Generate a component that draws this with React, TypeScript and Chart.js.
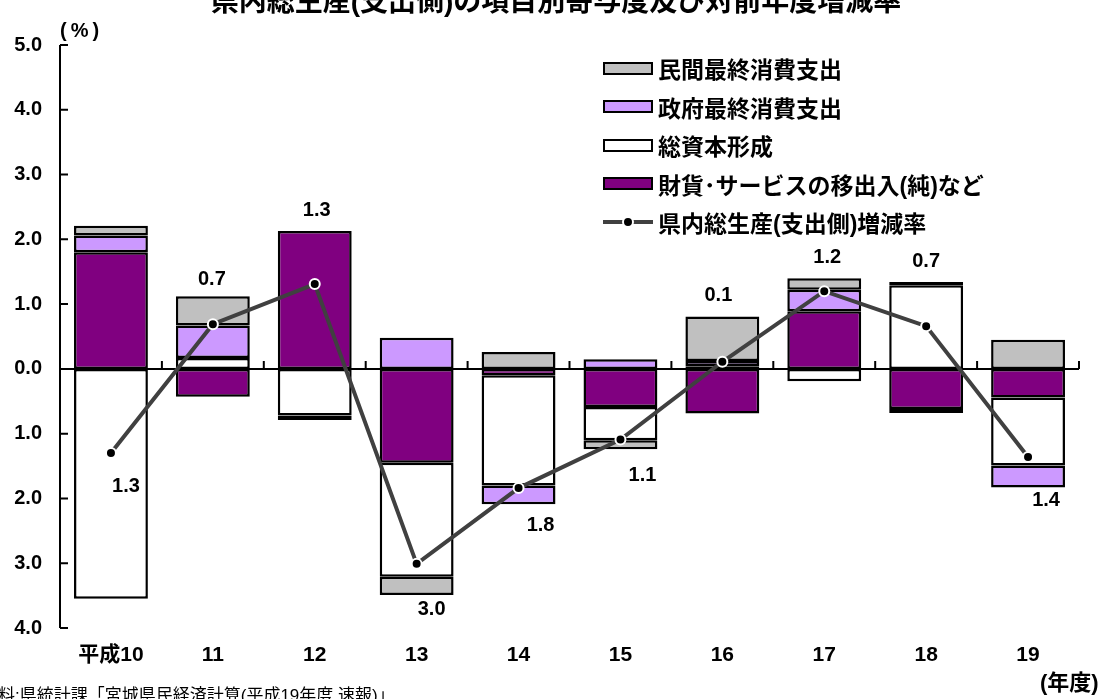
import React, { useEffect, useRef } from "react";
import { Chart, registerables } from "chart.js";

Chart.register(...registerables);

const TITLE = "県内総生産(支出側)の項目別寄与度及び対前年度増減率";
const SOURCE = "資料:県統計課「宮城県民経済計算(平成19年度 速報)」";
const CATEGORIES = ["平成10", "11", "12", "13", "14", "15", "16", "17", "18", "19"];
// contributions (percentage points)
const NET_EXPORTS = [1.8, -0.43, 2.13, -1.45, -0.1, -0.59, -0.69, 0.89, -0.62, -0.44];
const CAPITAL = [-3.55, 0.17, -0.72, -1.76, -1.7, -0.51, 0.04, -0.19, 1.29, -1.05];
const GOVERNMENT = [0.26, 0.5, null, 0.48, -0.29, 0.15, 0.08, 0.33, -0.06, -0.34];
const PRIVATE = [0.15, 0.45, -0.07, -0.28, 0.26, -0.14, 0.69, 0.18, 0.05, 0.45];
// growth rate of gross prefectural product (expenditure side)
const GROWTH = [-1.3, 0.69, 1.31, -3.01, -1.84, -1.09, 0.11, 1.2, 0.66, -1.36];
const Y_MIN = -4;
const Y_MAX = 5;

const SERIES_NAMES = {
  private: "民間最終消費支出",
  gov: "政府最終消費支出",
  cap: "総資本形成",
  net: "財貨･サービスの移出入(純)など",
  growth: "県内総生産(支出側)増減率",
};

const FONT = "'Liberation Sans', 'Noto Sans CJK JP', sans-serif";

// label placement relative to growth point / stack ends (dx, dy in px)
const LABEL_PLACE: { anchor: "point" | "top" | "bottom"; dx: number; dy: number }[] = [
  { anchor: "point", dx: 15, dy: 33 },
  { anchor: "top", dx: -1, dy: -17 },
  { anchor: "top", dx: 2, dy: -20 },
  { anchor: "bottom", dx: 15, dy: 15 },
  { anchor: "bottom", dx: 22, dy: 21 },
  { anchor: "bottom", dx: 22, dy: 26 },
  { anchor: "top", dx: -4, dy: -21 },
  { anchor: "top", dx: 3, dy: -21 },
  { anchor: "top", dx: 0, dy: -21 },
  { anchor: "bottom", dx: 18, dy: 13 },
];

const decorPlugin = {
  id: "decor",
  beforeDatasetsDraw(chart: any) {
    const { ctx, chartArea: a, scales } = chart;
    const x = scales.x;
    const y = scales.y;
    ctx.save();
    ctx.strokeStyle = "#000";
    ctx.lineWidth = 2;
    ctx.beginPath();
    ctx.moveTo(a.left, a.top);
    ctx.lineTo(a.left, a.bottom);
    y.ticks.forEach((t: any) => {
      const py = y.getPixelForValue(t.value);
      ctx.moveTo(a.left, py);
      ctx.lineTo(a.left + 8, py);
    });
    const z = y.getPixelForValue(0);
    ctx.moveTo(a.left, z);
    ctx.lineTo(a.right, z);
    const half = (x.getPixelForValue(1) - x.getPixelForValue(0)) / 2;
    for (let i = 0; i < CATEGORIES.length; i++) {
      const bx = x.getPixelForValue(i) + half;
      ctx.moveTo(bx, z);
      ctx.lineTo(bx, z - 8);
    }
    ctx.stroke();
    ctx.restore();
  },
  afterDatasetsDraw(chart: any) {
    const { ctx, scales } = chart;
    const x = scales.x;
    const y = scales.y;
    ctx.save();
    ctx.fillStyle = "#000";
    ctx.font = `bold 20px ${FONT}`;
    ctx.textAlign = "center";
    ctx.textBaseline = "middle";
    GROWTH.forEach((v, i) => {
      const series = [NET_EXPORTS, CAPITAL, GOVERNMENT, PRIVATE];
      let pos = 0;
      let neg = 0;
      series.forEach((s) => {
        const val = s[i];
        if (val == null) return;
        if (val >= 0) pos += val;
        else neg += val;
      });
      const p = LABEL_PLACE[i];
      let base = y.getPixelForValue(v);
      if (p.anchor === "top") base = y.getPixelForValue(pos);
      if (p.anchor === "bottom") base = y.getPixelForValue(neg);
      ctx.fillText(Math.abs(v).toFixed(1), x.getPixelForValue(i) + p.dx, base + p.dy);
    });
    ctx.restore();
  },
};

export default function App() {
  const ref = useRef<HTMLCanvasElement | null>(null);

  useEffect(() => {
    if (!ref.current) return;
    const barBase = {
      type: "bar" as const,
      borderColor: "#000",
      borderWidth: 2.5,
      borderSkipped: false,
      barPercentage: 1,
      categoryPercentage: 0.725,
      order: 1,
    };
    const chart = new Chart(ref.current, {
      type: "bar",
      data: {
        labels: CATEGORIES,
        datasets: [
          { ...barBase, label: SERIES_NAMES.net, data: NET_EXPORTS, backgroundColor: "#800080" },
          { ...barBase, label: SERIES_NAMES.cap, data: CAPITAL, backgroundColor: "#FFFFFF" },
          { ...barBase, label: SERIES_NAMES.gov, data: GOVERNMENT, backgroundColor: "#CC99FF" },
          { ...barBase, label: SERIES_NAMES.private, data: PRIVATE, backgroundColor: "#C0C0C0" },
          {
            type: "line" as const,
            label: SERIES_NAMES.growth,
            data: GROWTH,
            borderColor: "#404040",
            borderWidth: 4,
            pointRadius: 5,
            pointBackgroundColor: "#000",
            pointBorderColor: "#fff",
            pointBorderWidth: 2,
            tension: 0,
            order: 0,
          } as any,
        ],
      },
      options: {
        animation: false,
        responsive: false,
        maintainAspectRatio: false,
        devicePixelRatio: 1,
        layout: { padding: { left: 0, right: 33, top: 45, bottom: 0 } },
        plugins: {
          legend: { display: false },
          title: { display: false },
          tooltip: { enabled: false },
        },
        scales: {
          x: {
            stacked: true,
            grid: { display: false, drawTicks: false },
            border: { display: false },
            ticks: {
              color: "#000",
              font: { family: FONT, size: 21, weight: "bold" },
              padding: 15,
              maxRotation: 0,
              autoSkip: false,
            },
            afterFit: (s: any) => {
              s.height = 71;
            },
          },
          y: {
            stacked: true,
            min: Y_MIN,
            max: Y_MAX,
            grid: { display: false, drawTicks: false },
            border: { display: false },
            ticks: {
              stepSize: 1,
              color: "#000",
              font: { family: FONT, size: 20, weight: "bold" },
              padding: 18,
              callback: (v: any) => Math.abs(Number(v)).toFixed(1),
            },
            afterFit: (s: any) => {
              s.width = 60;
            },
          },
        },
      } as any,
      plugins: [decorPlugin],
    });
    return () => chart.destroy();
  }, []);

  const legendItems = [
    { name: SERIES_NAMES.private, color: "#C0C0C0" },
    { name: SERIES_NAMES.gov, color: "#CC99FF" },
    { name: SERIES_NAMES.cap, color: "#FFFFFF" },
    { name: SERIES_NAMES.net, color: "#800080" },
  ];

  return (
    <div
      style={{
        position: "fixed",
        left: 0,
        top: 0,
        width: 1112,
        height: 699,
        overflow: "hidden",
        background: "#fff",
        fontFamily: FONT,
        color: "#000",
      }}
    >
      <canvas ref={ref} width={1112} height={699} style={{ position: "absolute", left: 0, top: 0 }} />
      <div
        style={{
          position: "absolute",
          top: -12,
          left: 0,
          width: 1112,
          textAlign: "center",
          fontSize: 28,
          lineHeight: "28px",
          fontWeight: "bold",
          whiteSpace: "nowrap",
        }}
      >
        {TITLE}
      </div>
      <div
        style={{
          position: "absolute",
          top: 18,
          left: 60,
          fontSize: 20,
          lineHeight: "24px",
          fontWeight: "bold",
          letterSpacing: 4,
        }}
      >
        (%)
      </div>
      <div
        style={{
          position: "absolute",
          top: 670,
          left: 1040,
          fontSize: 22,
          lineHeight: "26px",
          fontWeight: "bold",
          whiteSpace: "nowrap",
        }}
      >
        (年度)
      </div>
      <div
        style={{
          position: "absolute",
          top: 686,
          left: -19,
          fontSize: 17,
          lineHeight: "20px",
          whiteSpace: "nowrap",
        }}
      >
        {SOURCE}
      </div>
      <div style={{ position: "absolute", left: 603, top: 49 }}>
        {legendItems.map((it, i) => (
          <div key={i} style={{ display: "flex", alignItems: "center", height: 38.5 }}>
            <div
              style={{
                width: 50,
                height: 13,
                boxSizing: "border-box",
                border: "2px solid #000",
                background: it.color,
                marginRight: 5,
              }}
            />
            <span style={{ fontSize: 23, fontWeight: "bold", whiteSpace: "nowrap" }}>{it.name}</span>
          </div>
        ))}
        <div style={{ display: "flex", alignItems: "center", height: 38.5 }}>
          <svg width={50} height={14} style={{ marginRight: 5 }}>
            <line x1={0} y1={7} x2={50} y2={7} stroke="#404040" strokeWidth={4} />
            <circle cx={25} cy={7} r={5} fill="#000" stroke="#fff" strokeWidth={2} />
          </svg>
          <span style={{ fontSize: 23, fontWeight: "bold", whiteSpace: "nowrap" }}>{SERIES_NAMES.growth}</span>
        </div>
      </div>
    </div>
  );
}
